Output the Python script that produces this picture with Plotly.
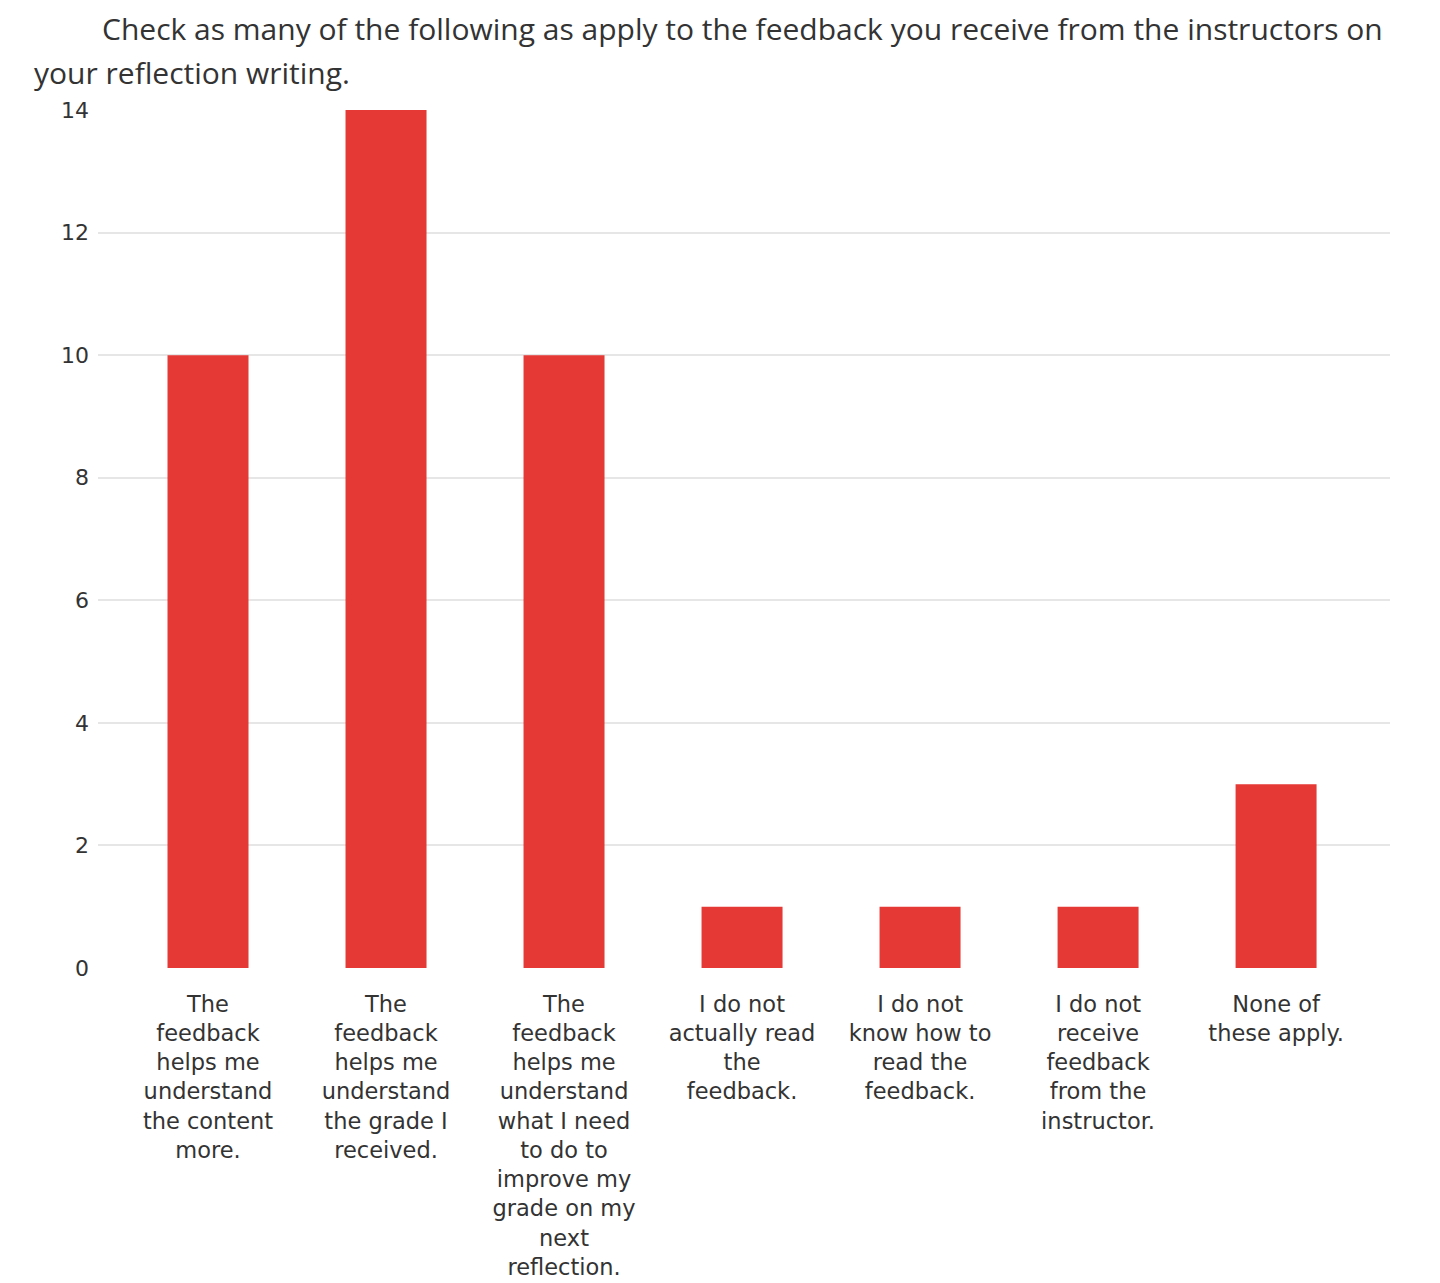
import plotly.graph_objects as go

categories = [
    "The<br>feedback<br>helps me<br>understand<br>the content<br>more.",
    "The<br>feedback<br>helps me<br>understand<br>the grade I<br>received.",
    "The<br>feedback<br>helps me<br>understand<br>what I need<br>to do to<br>improve my<br>grade on my<br>next<br>reflection.",
    "I do not<br>actually read<br>the<br>feedback.",
    "I do not<br>know how to<br>read the<br>feedback.",
    "I do not<br>receive<br>feedback<br>from the<br>instructor.",
    "None of<br>these apply.",
]
values = [10, 14, 10, 1, 1, 1, 3]
y_ticks = [0, 2, 4, 6, 8, 10, 12, 14]
title_line1 = "Check as many of the following as apply to the feedback you receive from the instructors on"
title_line2 = "your reflection writing."

positions = list(range(len(categories)))

fig = go.Figure()
fig.add_trace(go.Bar(
    x=positions,
    y=values,
    width=0.455,
    marker=dict(color="#e53935", line=dict(width=0)),
    showlegend=False,
))

# page has an 8px body margin; compensate
OFF = 8
W, H = 1440 - OFF, 1283 - OFF
ml, mt = 98 - OFF, 110 - OFF
mr = 1440 - 1390
mb = 1283 - 968
pw = W - ml - mr
ph = H - mt - mb

def px_to_paper_x(px):
    return (px - OFF - ml) / pw

def py_to_paper_y(py):
    return 1 + (mt - (py - OFF)) / ph

fig.update_layout(
    width=W, height=H,
    autosize=False,
    margin=dict(l=ml, r=mr, t=mt, b=mb, pad=0, autoexpand=False),
    plot_bgcolor="white",
    paper_bgcolor="white",
    xaxis=dict(
        range=[-0.618, 6.64],
        tickmode="array",
        tickvals=positions,
        ticktext=categories,
        showgrid=False,
        zeroline=False,
        showline=False,
        ticks="",
        automargin=False,
        tickfont=dict(family="DejaVu Sans, sans-serif", size=22.5, color="#333333"),
        ticklabelstandoff=20,
    ),
    yaxis=dict(
        range=[0, 14],
        tickmode="array",
        tickvals=y_ticks,
        showgrid=True,
        gridcolor="#e6e6e6",
        gridwidth=1.5,
        zeroline=False,
        showline=False,
        ticks="",
        automargin=False,
        tickfont=dict(family="DejaVu Sans, sans-serif", size=22, color="#333333"),
        ticklabelstandoff=8,
    ),
    annotations=[
        dict(text=title_line1, xref="paper", yref="paper",
             x=px_to_paper_x(100), y=py_to_paper_y(28),
             xanchor="left", yanchor="middle", showarrow=False,
             font=dict(family="Open Sans, Noto Sans, sans-serif", size=30, color="#333333")),
        dict(text=title_line2, xref="paper", yref="paper",
             x=px_to_paper_x(32), y=py_to_paper_y(72),
             xanchor="left", yanchor="middle", showarrow=False,
             font=dict(family="Open Sans, Noto Sans, sans-serif", size=30, color="#333333")),
    ],
)

fig.write_html("out.html")
